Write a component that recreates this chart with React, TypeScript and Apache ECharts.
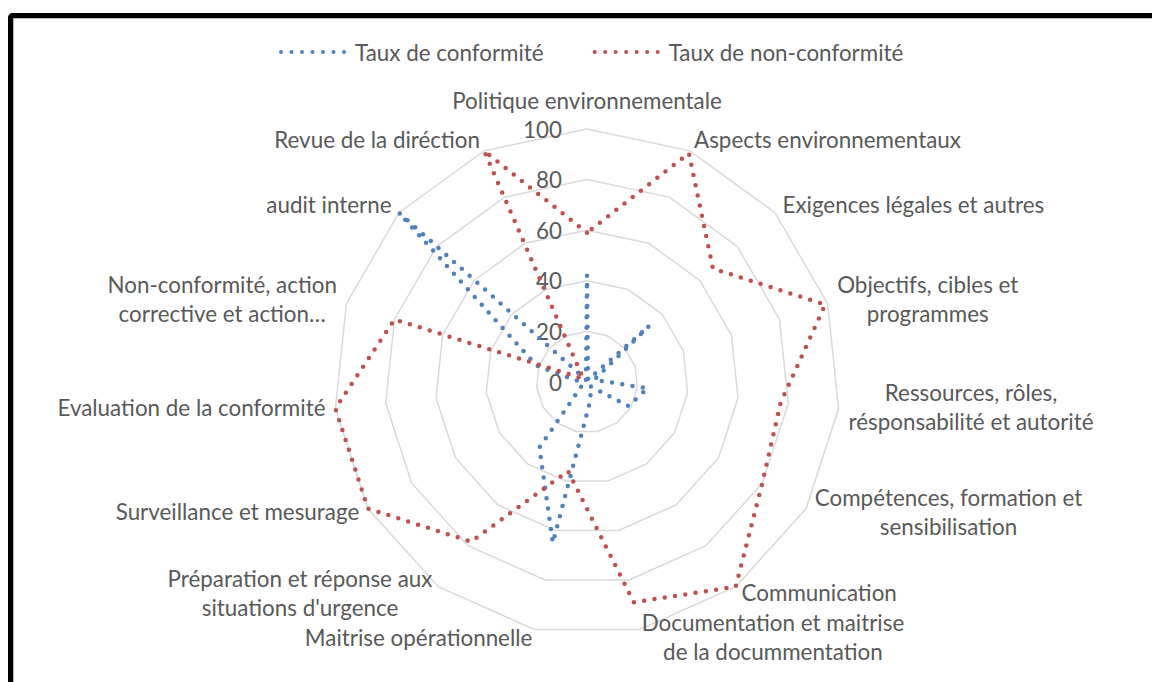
import React, { useEffect, useRef } from "react";
import * as echarts from "echarts";

// Excel order (clockwise from top)
const categories = [
  "Politique environnementale",
  "Aspects environnementaux",
  "Exigences légales et autres",
  "Objectifs, cibles et\nprogrammes",
  "Ressources, rôles,\nrésponsabilité et autorité",
  "Compétences, formation et\nsensibilisation",
  "Communication",
  "Documentation et maitrise\nde la docummentation",
  "Maitrise opérationnelle",
  "Préparation et réponse aux\nsituations d'urgence",
  "Surveillance et mesurage",
  "Evaluation de la conformité",
  "Non-conformité, action\ncorrective et action…",
  "audit interne",
  "Revue de la diréction",
];
const seriesNames = ["Taux de conformité", "Taux de non-conformité"];
const tauxConformite = [42, 1, 33, 3, 24, 19, 2, 7, 65, 32, 2, 2, 21, 100, 1];
const tauxNonConformite = [59, 99, 67, 99, 77, 80, 100, 89, 36, 78, 100, 100, 80, 2, 100];
const axisMin = 0;
const axisMax = 100;
const axisSplits = 5;

const TEXT = "#595959";
const FONT = "Lato";
const FS = 22.4;
const BLUE = "#4F81BD";
const RED = "#C0504D";

function dotsIcon(n: number, step: number, r: number) {
  let d = "path://";
  for (let i = 0; i < n; i++) {
    const cx = r + i * step;
    d += `M${cx - r},${r}a${r},${r} 0 1,0 ${2 * r},0a${r},${r} 0 1,0 ${-2 * r},0Z`;
  }
  return d;
}

export default function App() {
  const ref = useRef<HTMLDivElement>(null);
  useEffect(() => {
    if (!ref.current) return;
    const chart = echarts.init(ref.current, undefined, { renderer: "svg" });
    const n = categories.length;
    // ECharts radar runs counter-clockwise; map to Excel's clockwise order
    const order = categories.map((_, i) => (n - i) % n);
    const indicator = order.map((k, i) => ({
      name: categories[k],
      min: axisMin,
      max: axisMax,
      axisLabel: { show: i === 0 },
    }));
    const pick = (arr: number[]) => order.map((k) => arr[k]);
    const dotted = (color: string) => ({
      color,
      width: 4.5,
      type: [0, 10.4],
      cap: "round",
    });
    chart.setOption({
      animation: false,
      legend: {
        left: 279,
        top: 41,
        padding: 0,
        itemGap: 49,
        itemWidth: 67,
        itemHeight: 4,
        icon: dotsIcon(7, 10.5, 2),
        textStyle: { color: TEXT, fontSize: FS, fontFamily: FONT, padding: [0, 0, 0, 4] },
        data: seriesNames,
      },
      radar: {
        center: [587, 382],
        radius: 253,
        startAngle: 90,
        shape: "polygon",
        splitNumber: axisSplits,
        nameGap: 10,
        axisName: {
          color: TEXT,
          fontSize: FS,
          fontFamily: FONT,
          padding: [0, 0, 4, 0],
          formatter: (name: string) =>
            name
              .split("\n")
              .map((l) => `{c|${l}}`)
              .join("\n"),
          rich: {
            c: { align: "center", color: TEXT, fontSize: FS, fontFamily: FONT, lineHeight: 29 },
          },
        },
        axisLine: { show: false },
        axisTick: { show: false },
        axisLabel: { show: false, margin: 25, color: TEXT, fontSize: FS, fontFamily: FONT },
        splitLine: { lineStyle: { color: "#D9D9D9", width: 1.5 } },
        splitArea: { show: false },
        indicator,
      },
      series: [
        {
          type: "radar",
          symbol: "none",
          data: [
            {
              name: seriesNames[0],
              value: pick(tauxConformite),
              itemStyle: { color: BLUE },
              lineStyle: dotted(BLUE),
            },
            {
              name: seriesNames[1],
              value: pick(tauxNonConformite),
              itemStyle: { color: RED },
              lineStyle: dotted(RED),
            },
          ],
        },
      ],
    });
    return () => chart.dispose();
  }, []);
  return (
    <>
      <div
        style={{
          position: "fixed",
          left: 8,
          top: 13,
          right: 0,
          bottom: 0,
          borderTop: "5.5px solid #000",
          borderLeft: "5.5px solid #000",
          borderTopLeftRadius: 5,
          boxShadow: "inset 1px 1px 0 #b8b8b8",
          background: "#fff",
        }}
      />
      <div ref={ref} style={{ position: "fixed", left: 0, top: 0, width: 1152, height: 682 }} />
    </>
  );
}
